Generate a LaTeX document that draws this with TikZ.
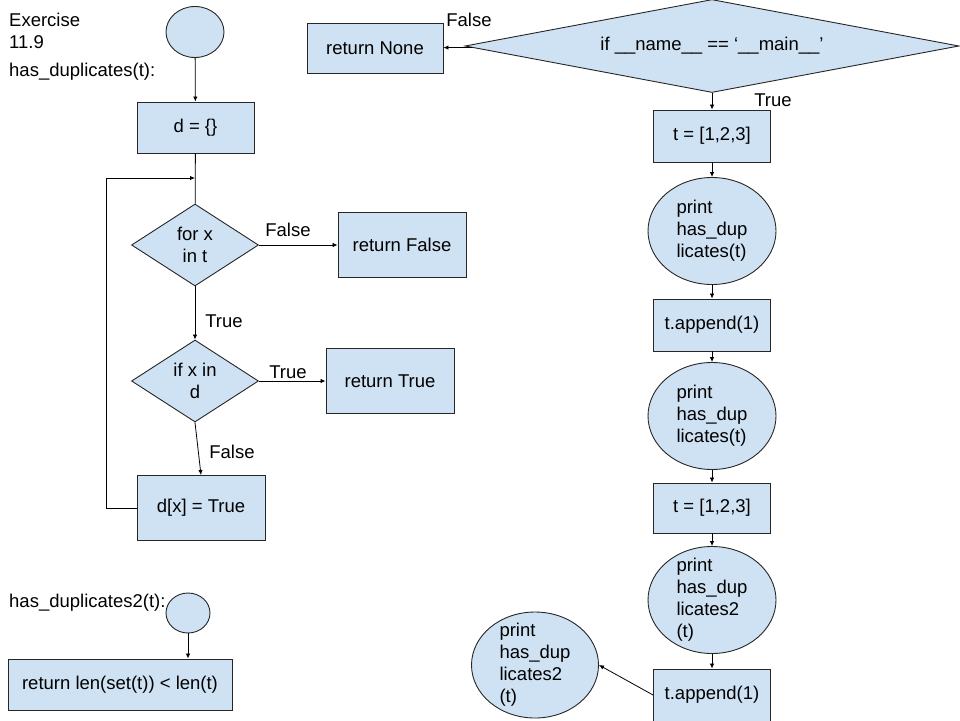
\documentclass[tikz,border=0pt]{standalone}
\usepackage{fontspec}
\setmainfont{Liberation Sans}
\usetikzlibrary{shapes.geometric,arrows.meta}
\definecolor{boxblue}{HTML}{CFE2F3}
\begin{document}
\begin{tikzpicture}[x=1pt,y=-1pt,>={Latex[length=5pt,width=4.5pt]},
  every node/.style={font=\fontsize{18.5}{22}\selectfont},
  block/.style={draw=black!85,fill=boxblue,line width=0.9pt,minimum width=117pt,minimum height=51pt,inner sep=0pt},
  decision/.style={diamond,draw=black!85,fill=boxblue,line width=0.9pt,inner sep=0pt,align=center,minimum width=127pt,minimum height=82pt,shape aspect=1.55},
  oval/.style={ellipse,draw=black!85,fill=boxblue,line width=0.9pt,minimum width=128pt,minimum height=107pt,inner sep=0pt},
  note/.style={inner sep=0pt,align=left},
  link/.style={line width=0.8pt}]
  \useasboundingbox (0,0) rectangle (960,720);

  % has_duplicates

  \node[note,anchor=west] (title) at (9,31) {Exercise\\11.9};
  \node[note,anchor=west] (fname) at (9,72) {has\_duplicates(t):};

  \node[oval,minimum width=58pt,minimum height=51pt] (start) at (195,32) {};

  \node[block] (dinit) at (195.5,127.5) {d = \{\}};

  \draw[link,->] (start) to (dinit);

  \node[decision] (forx) at (195,245) {for x\\in t};

  \coordinate (join) at (195,178);

  \draw[link] (dinit) to (forx);

  \node[block,minimum width=128pt,minimum height=65pt] (retfalse) at (402,245) {return False};

  \draw[link,->] (forx) to (retfalse);
  \node[note] (lblfalse1) at (288,230) {False};

  \node[decision] (ifx) at (195,381) {if x in\\d};

  \draw[link,->] (forx) to (ifx);
  \node[note] (lbltrue1) at (224,321) {True};

  \node[block,minimum width=128pt,minimum height=65pt] (rettrue) at (390,381) {return True};

  \draw[link,->] (ifx) to (rettrue);
  \node[note] (lbltrue2) at (288,372) {True};

  \node[block,minimum width=128pt,minimum height=65pt] (dset) at (201,508) {d[x] = True};

  \draw[link,->] (ifx.south) to (dset.north);
  \node[note] (lblfalse2) at (232,452) {False};

  \draw[link,->] (dset.west) -- ++(-30,0) |- (join);

  % has_duplicates2

  \node[note,anchor=west] (fname2) at (9,603) {has\_duplicates2(t):};

  \node[oval,minimum width=44pt,minimum height=40pt] (start2) at (188,613) {};

  \node[block,minimum width=224pt] (retlen) at (120,684.5) {return len(set(t)) < len(t)};

  \draw[link,->] (start2) to (start2 |- retlen.north);

  % main

  \node[decision,minimum width=494pt,minimum height=93pt,shape aspect=5.3] (main) at (712,46) {if \_\_name\_\_ == ‘\_\_main\_\_’};

  \node[block,minimum width=136pt,minimum height=50pt] (retnone) at (375,48) {return None};

  \draw[link,->] (main) to (retnone);
  \node[note] (lblfalse3) at (469,20) {False};

  \node[block,minimum height=52pt] (tone) at (712,136) {t = [1,2,3]};

  \draw[link,->] (main) to (tone);
  \node[note] (lbltrue3) at (773,100) {True};

  \node[oval] (pone) at (712,231) {};
  \node[note] (ponetext) at (pone) {print\\has\_dup\\licates(t)};

  \draw[link,->] (tone) to (pone);

  \node[block,minimum height=52pt] (appone) at (712,325) {t.append(1)};

  \draw[link,->] (pone) to (appone);

  \node[oval] (ptwo) at (712,416) {};
  \node[note] (ptwotext) at (ptwo) {print\\has\_dup\\licates(t)};

  \draw[link,->] (appone) to (ptwo);

  \node[block,minimum height=50pt] (ttwo) at (712,508) {t = [1,2,3]};

  \draw[link,->] (ptwo) to (ttwo);

  \node[oval] (pthree) at (712,600) {};
  \node[note] (pthreetext) at (pthree) {print\\has\_dup\\licates2\\(t)};

  \draw[link,->] (ttwo) to (pthree);

  \node[block,minimum height=52pt] (apptwo) at (712,695) {t.append(1)};

  \draw[link,->] (pthree) to (apptwo);

  \node[oval,minimum width=127pt,minimum height=106pt] (pfour) at (535,665) {};
  \node[note] (pfourtext) at (pfour) {print\\has\_dup\\licates2\\(t)};

  \draw[link,->] (apptwo.west) to (pfour.east);

\end{tikzpicture}
\end{document}
